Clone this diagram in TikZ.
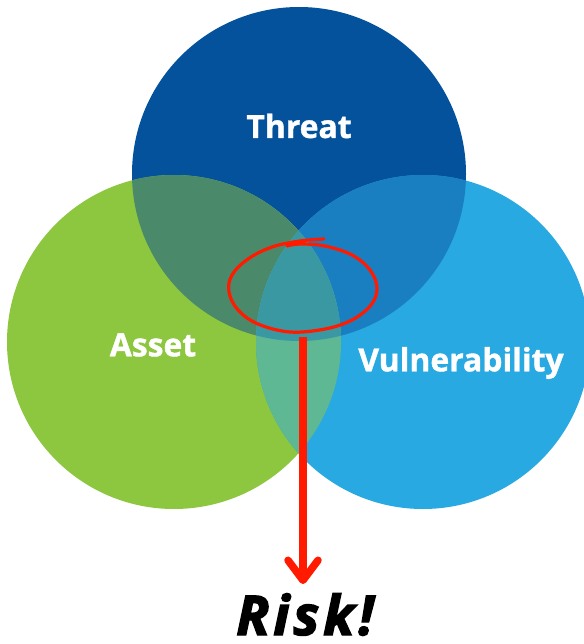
\documentclass[tikz,border=0pt]{standalone}
\usepackage{fontspec}
\setmainfont{Open Sans}[BoldFeatures={FakeBold=1.2},BoldItalicFeatures={FakeBold=2.5,LetterSpace=7}]
\usetikzlibrary{arrows.meta}
\definecolor{threatblue}{HTML}{04529C}
\definecolor{assetgreen}{HTML}{8DC63F}
\definecolor{vulnblue}{HTML}{29A9E1}
\definecolor{tacol}{HTML}{4A8A6B}
\definecolor{tvcol}{HTML}{1A7FC0}
\definecolor{avcol}{HTML}{5DB893}
\definecolor{tavcol}{HTML}{3A98A3}
\definecolor{riskred}{HTML}{FF1A00}

\begin{document}
\begin{tikzpicture}[x=1bp,y=-1bp,
    lbl/.style={text=white,font=\bfseries\fontsize{32}{38}\selectfont},
    ring/.style={riskred,line width=3.2bp,line cap=round,line join=round},
    riskarrow/.style={riskred,line width=7.5bp,-{Straight Barb[length=20bp,width=30bp,round]}}]
    \useasboundingbox (0,0) rectangle (584,644);
    \coordinate (T) at (299,174);
    \coordinate (A) at (174,342);
    \coordinate (V) at (423,342);
    \fill[threatblue] (T) circle (167);
    \fill[assetgreen] (A) circle (167);
    \fill[vulnblue] (V) circle (167);
    \begin{scope}
        \clip (T) circle (167);
        \fill[tacol] (A) circle (167);
        \fill[tvcol] (V) circle (167);
    \end{scope}
    \begin{scope}
        \clip (A) circle (167);
        \fill[avcol] (V) circle (167);
        \clip (V) circle (167);
        \fill[tavcol] (T) circle (167);
    \end{scope}
    \node[lbl] (threat) at (299,126) {Threat};
    \node[lbl] (asset) at (153,345) {Asset};
    \node[lbl] (vuln) at (461,363) {Vulnerability};
    % hand drawn ring round the middle
    \draw[ring] plot[smooth,tension=0.6] coordinates {(324,239) (300,241) (272,247) (248,259) (232,275) (229,292) (238,310) (258,324) (290,332) (325,329) (352,320) (371,305) (377,288) (370,270) (352,255) (325,246) (300,244) (287,246)};
    \coordinate (ring) at (303,337);
    \coordinate (tip) at (303,584);
    \node[font=\bfseries\itshape\fontsize{55}{60}\selectfont,anchor=base,inner sep=0pt] (risk) at (305,635) {Risk!};
    \draw[riskarrow] (ring) -- (tip);
\end{tikzpicture}
\end{document}
